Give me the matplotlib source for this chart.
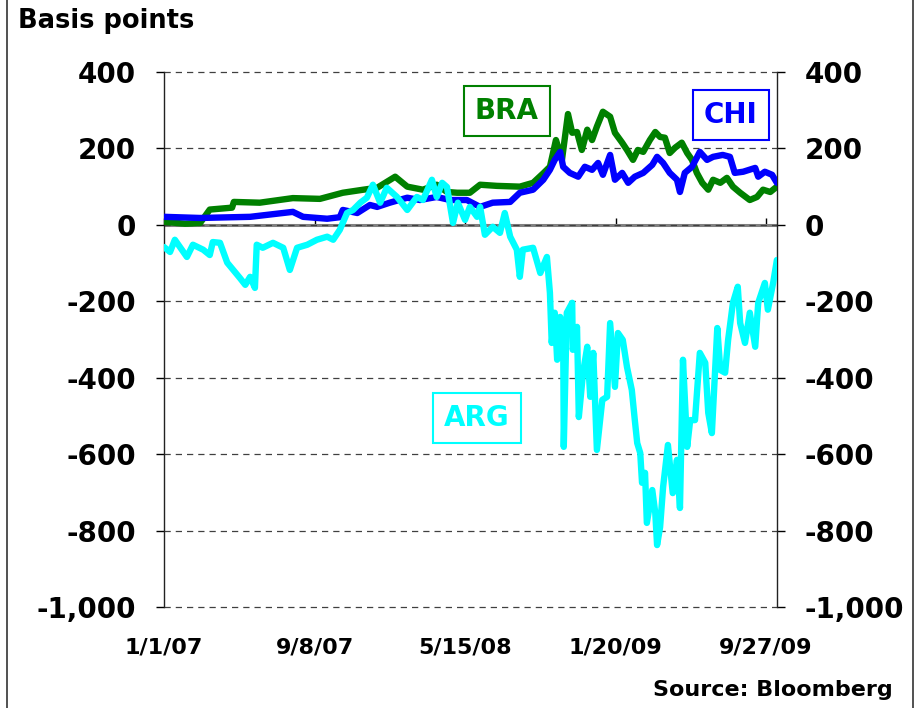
import pandas as pd
import matplotlib
matplotlib.use("Agg")
import matplotlib.pyplot as plt
from matplotlib.lines import Line2D
from matplotlib.ticker import FuncFormatter

# Spreads in basis points
bra_dates = ['2007-01-01', '2007-02-05', '2007-03-02', '2007-03-18', '2007-04-24', '2007-04-27',
             '2007-06-09', '2007-08-03', '2007-09-17', '2007-10-25', '2007-11-28', '2007-12-21',
             '2008-01-20', '2008-02-09', '2008-03-06', '2008-03-29', '2008-04-15', '2008-05-02',
             '2008-05-23', '2008-06-09', '2008-07-07', '2008-08-14', '2008-09-05', '2008-09-22',
             '2008-10-03', '2008-10-13', '2008-10-23', '2008-11-02', '2008-11-09', '2008-11-17',
             '2008-11-25', '2008-12-04', '2008-12-12', '2008-12-20', '2008-12-30', '2009-01-11',
             '2009-01-19', '2009-01-31', '2009-02-08', '2009-02-18', '2009-02-26', '2009-03-07',
             '2009-03-18', '2009-03-27', '2009-04-04', '2009-04-12', '2009-04-20', '2009-04-29',
             '2009-05-10', '2009-05-19', '2009-05-27', '2009-06-04', '2009-06-13', '2009-06-23',
             '2009-07-01', '2009-07-13', '2009-07-24', '2009-08-03', '2009-08-15', '2009-08-31',
             '2009-09-12', '2009-09-22', '2009-10-04', '2009-10-15']
bra_bp = [8, 3, 5, 40, 45, 60,
          58, 70, 68, 84, 92, 97,
          126, 100, 92, 105, 86, 84,
          84, 105, 102, 100, 110, 135,
          152, 222, 170, 290, 241, 243,
          196, 249, 222, 257, 296, 283,
          241, 215, 196, 170, 196, 191,
          222, 243, 230, 228, 188, 202,
          215, 188, 170, 136, 110, 92,
          118, 110, 123, 100, 84, 65,
          73, 92, 86, 100]

chi_dates = ['2007-01-01', '2007-03-02', '2007-05-24', '2007-08-03', '2007-08-20', '2007-09-29',
             '2007-10-20', '2007-10-25', '2007-11-18', '2007-12-09', '2007-12-21', '2008-01-11',
             '2008-02-09', '2008-03-01', '2008-03-29', '2008-04-20', '2008-05-18', '2008-06-09',
             '2008-06-30', '2008-07-29', '2008-08-14', '2008-09-05', '2008-09-22', '2008-10-03',
             '2008-10-11', '2008-10-20', '2008-10-25', '2008-11-05', '2008-11-19', '2008-11-30',
             '2008-12-12', '2008-12-22', '2008-12-30', '2009-01-11', '2009-01-19', '2009-01-31',
             '2009-02-10', '2009-02-21', '2009-03-07', '2009-03-22', '2009-03-30', '2009-04-09',
             '2009-04-20', '2009-05-02', '2009-05-07', '2009-05-15', '2009-05-27', '2009-06-09',
             '2009-06-21', '2009-07-01', '2009-07-17', '2009-07-29', '2009-08-06', '2009-08-20',
             '2009-09-09', '2009-09-14', '2009-09-25', '2009-10-07', '2009-10-15']
chi_bp = [21, 18, 21, 34, 21, 16,
          20, 39, 31, 52, 47, 58,
          71, 65, 73, 65, 65, 47,
          58, 60, 84, 92, 118, 144,
          170, 191, 152, 136, 126, 152,
          144, 162, 131, 183, 118, 136,
          110, 126, 136, 157, 178, 162,
          136, 118, 86, 136, 152, 191,
          170, 178, 183, 178, 136, 139,
          149, 126, 139, 131, 110]

arg_dates = ['2007-01-01', '2007-01-11', '2007-01-19', '2007-02-08', '2007-02-18', '2007-03-07',
             '2007-03-18', '2007-03-23', '2007-04-04', '2007-04-16', '2007-04-26', '2007-05-07',
             '2007-05-16', '2007-05-24', '2007-06-01', '2007-06-04', '2007-06-14', '2007-07-01',
             '2007-07-18', '2007-07-29', '2007-08-10', '2007-08-27', '2007-09-12', '2007-09-29',
             '2007-10-09', '2007-10-20', '2007-11-01', '2007-11-11', '2007-11-23', '2007-12-04',
             '2007-12-14', '2007-12-26', '2008-01-06', '2008-01-23', '2008-02-09', '2008-02-25',
             '2008-03-06', '2008-03-21', '2008-03-29', '2008-04-07', '2008-04-15', '2008-04-25',
             '2008-05-03', '2008-05-15', '2008-05-23', '2008-06-04', '2008-06-09', '2008-06-17',
             '2008-06-30', '2008-07-12', '2008-07-20', '2008-07-29', '2008-08-09', '2008-08-14',
             '2008-08-19', '2008-09-05', '2008-09-17', '2008-09-28', '2008-10-03', '2008-10-06',
             '2008-10-11', '2008-10-15', '2008-10-20', '2008-10-25', '2008-10-26', '2008-10-31',
             '2008-11-09', '2008-11-10', '2008-11-17', '2008-11-20', '2008-11-27', '2008-12-04',
             '2008-12-09', '2008-12-14', '2008-12-20', '2008-12-29', '2009-01-06', '2009-01-11',
             '2009-01-19', '2009-01-24', '2009-02-01', '2009-02-08', '2009-02-16', '2009-02-21',
             '2009-02-25', '2009-03-02', '2009-03-05', '2009-03-10', '2009-03-13', '2009-03-22',
             '2009-03-27', '2009-03-30', '2009-04-04', '2009-04-09', '2009-04-17', '2009-04-25',
             '2009-05-02', '2009-05-07', '2009-05-12', '2009-05-19', '2009-05-24', '2009-06-01',
             '2009-06-09', '2009-06-18', '2009-06-23', '2009-06-29', '2009-07-08', '2009-07-13',
             '2009-07-21', '2009-07-26', '2009-08-03', '2009-08-11', '2009-08-15', '2009-08-23',
             '2009-08-31', '2009-09-09', '2009-09-14', '2009-09-25', '2009-09-30', '2009-10-09',
             '2009-10-15']
arg_bp = [-58, -71, -39, -84, -52, -65,
          -79, -45, -47, -99, -118, -139,
          -157, -136, -165, -52, -60, -47,
          -60, -118, -60, -52, -39, -31,
          -39, -13, 31, 39, 58, 71,
          105, 58, 97, 73, 39, 73,
          65, 118, 73, 110, 99, 5,
          58, 13, 47, 21, 47, -26,
          -5, -21, 31, -31, -65, -136,
          -65, -60, -126, -84, -178, -309,
          -230, -353, -241, -275, -581, -230,
          -204, -327, -267, -503, -387, -319,
          -450, -335, -589, -458, -450, -257,
          -424, -283, -301, -372, -432, -511,
          -571, -597, -675, -649, -780, -694,
          -754, -838, -791, -686, -576, -702,
          -615, -741, -353, -581, -511, -511,
          -335, -361, -492, -545, -270, -380,
          -387, -301, -204, -162, -257, -309,
          -230, -319, -204, -152, -222, -150,
          -92]

tick_dates = ['2007-01-01', '2007-09-08', '2008-05-15', '2009-01-20', '2009-09-27']
tick_labels = ['1/1/07', '9/8/07', '5/15/08', '1/20/09', '9/27/09']
y_ticks = [-1000, -800, -600, -400, -200, 0, 200, 400]
x_start, x_end = '2007-01-01', '2009-10-15'

plt.rcParams['font.family'] = ['DejaVu Sans']
plt.rcParams['font.weight'] = 'bold'

fig = plt.figure(figsize=(9.23, 7.08), dpi=100)
ax = fig.add_axes([0.1777, 0.1427, 0.664, 0.7556])

ax.set_xlim(pd.Timestamp(x_start), pd.Timestamp(x_end))
ax.set_ylim(y_ticks[0], y_ticks[-1])

# dashed grid, solid grey zero line
ax.set_yticks(y_ticks)
ax.grid(axis='y', linestyle=(0, (5, 4)), color='#404040', linewidth=0.9)
ax.grid(axis='x', visible=False)
for gl in ax.get_ygridlines():
    gl.set_clip_on(False)
ax.axhline(0, color='#808080', linewidth=2.2, zorder=1.5)

lw = 4.6
ax.plot(pd.to_datetime(bra_dates), bra_bp, color='#008000', lw=lw,
        solid_joinstyle='round', solid_capstyle='round', zorder=3)
ax.plot(pd.to_datetime(chi_dates), chi_bp, color='#0000FF', lw=lw,
        solid_joinstyle='round', solid_capstyle='round', zorder=4)
ax.plot(pd.to_datetime(arg_dates), arg_bp, color='#00FFFF', lw=lw,
        solid_joinstyle='round', solid_capstyle='round', zorder=5)

# y axis on both sides
ax.yaxis.set_major_formatter(FuncFormatter(lambda v, p: f"{v:,.0f}"))
ax.tick_params(axis='y', which='both', direction='out', length=6, width=1,
               left=True, right=True, labelleft=True, labelright=True,
               labelsize=20, pad=14)
for lab in ax.get_yticklabels():
    lab.set_fontweight('bold')

for s in ['top', 'bottom']:
    ax.spines[s].set_visible(False)
for s in ['left', 'right']:
    ax.spines[s].set_color('#222222')
    ax.spines[s].set_linewidth(1)

# date labels at bottom, tick marks on the zero line
ax.set_xticks(pd.to_datetime(tick_dates))
ax.set_xticklabels(tick_labels, fontsize=16, fontweight='bold')
ax.tick_params(axis='x', length=0, pad=22)

zero_frac = (0 - y_ticks[0]) / (y_ticks[-1] - y_ticks[0])
secax = ax.secondary_xaxis(zero_frac)
secax.set_xticks(pd.to_datetime(tick_dates), labels=[''] * len(tick_dates))
secax.tick_params(axis='x', direction='out', length=5, width=1, labelbottom=False, labeltop=False)
secax.spines['bottom'].set_visible(False)

# boxed series labels
def boxed(x, y, text, color):
    ax.text(x, y, text, transform=ax.transAxes, ha='center', va='center',
            fontsize=20, fontweight='bold', color=color, zorder=6,
            bbox=dict(boxstyle='square,pad=0.4', facecolor='white', edgecolor=color, linewidth=1.5))

boxed(0.5595, 0.927, 'BRA', '#008000')
boxed(0.925, 0.9196, 'CHI', '#0000FF')
boxed(0.5106, 0.353, 'ARG', '#00FFFF')

fig.text(18 / 923, 1 - 21 / 708, 'Basis points', fontsize=18.5, fontweight='bold',
         ha='left', va='center')
fig.text(893 / 923, 1 - 690 / 708, 'Source: Bloomberg', fontsize=16, fontweight='bold',
         ha='right', va='center')

# frame edges of the original graphic
for fx in [7 / 923, 913 / 923]:
    fig.add_artist(Line2D([fx, fx], [0, 1], transform=fig.transFigure, color='#333333', lw=1.2))

fig.savefig('out.png', dpi=100)
